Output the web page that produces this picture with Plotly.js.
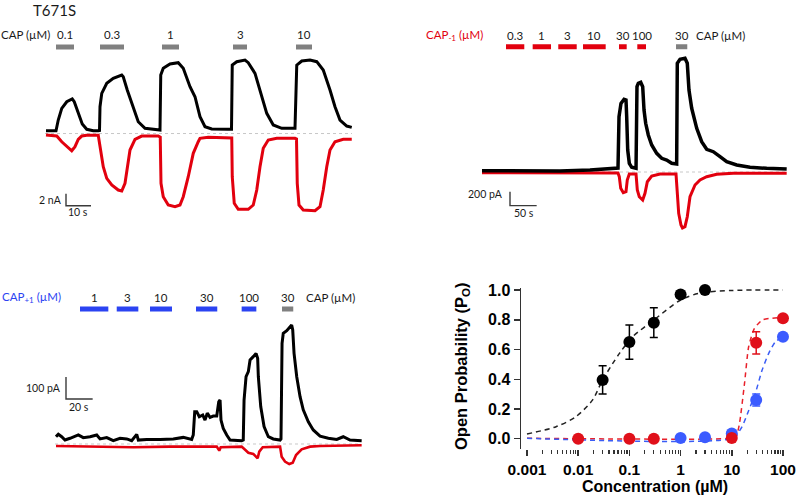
<!DOCTYPE html>
<html><head><meta charset="utf-8">
<script src="https://cdn.plot.ly/plotly-3.0.1.min.js"></script>
<style>html,body{margin:0;padding:0;background:#fff;}#chart{width:797px;height:496px;}</style>
</head><body><div id="chart"></div>
<script>
// ---------- Panel A: T671S, CAP (time s, current nA) ----------
const A_black_t = [0.4,4.4,5.3,6.7,8.7,10.9,11.7,13.3,14.9,16.7,19.3,21.3,21.8,22.0,22.7,24.7,27.3,30.7,31.3,32.9,35.3,37.3,40.0,45.3,46.0,46.3,47.3,50.0,53.3,55.3,58.0,60.0,62.0,64.0,66.7,73.3,74.6,74.9,76.7,80.0,81.3,84.0,86.7,88.7,91.3,94.7,100.0,100.7,102.7,106.0,108.7,111.3,114.0,116.0,118.0,120.7,122.7];
const A_black_I = [0.47,0.47,2.25,4.2,5.3,5.75,5.3,3.37,1.58,0.7,0.47,0.47,0.5,4.47,6.7,8.37,9.2,9.75,9.47,7.25,4.47,1.97,0.87,0.58,0.58,9.75,10.87,11.58,11.8,10.87,7.8,6.13,2.8,1.13,0.75,0.7,0.7,11.4,11.97,12.25,11.8,10.03,6.13,3.37,1.42,0.87,0.87,11.4,12.08,12.25,11.97,10.58,7.25,4.47,2.25,1.25,1.03];
const A_red_t = [0.4,4.7,6.7,8.7,10.7,12.0,13.3,14.7,16.7,21.3,22.3,23.3,24.7,26.7,29.3,30.7,32.0,32.9,34.0,36.0,38.7,45.3,46.1,46.4,47.3,49.3,52.0,54.0,55.3,57.3,59.3,61.3,62.0,65.3,74.0,74.7,74.9,75.7,77.3,81.3,83.3,84.7,86.0,87.3,89.3,92.7,100.0,100.6,100.9,101.6,103.3,108.0,110.0,111.3,112.7,114.0,116.0,119.3,122.7];
const A_red_I = [-0.25,-0.42,-1.37,-2.2,-2.87,-2.2,-0.97,-0.42,-0.3,-0.3,-2.75,-5.53,-7.47,-8.58,-9.42,-9.58,-8.3,-5.53,-2.75,-0.97,-0.42,-0.42,-0.6,-8.3,-10.53,-11.92,-12.2,-11.92,-10.53,-7.2,-3.3,-1.37,-0.8,-0.63,-0.63,-0.75,-7.2,-11.63,-12.63,-12.63,-11.92,-9.42,-5.53,-2.47,-1.08,-0.8,-0.8,-0.92,-8.3,-11.92,-12.75,-12.87,-12.2,-9.42,-5.53,-2.75,-1.37,-0.97,-0.97];
const A_bar_start = [4.4,22.0,46.8,75.2,100.4];
const A_bar_end   = [11.6,31.6,53.6,80.8,106.8];
const A_bar_labels = ['0.1','0.3','1','3','10'];

// ---------- Panel B: CAP-1 (time s, current pA) ----------
const B_black_t = [0,71,146,202.5,246.2,255,256.9,260.6,266.3,270,271.3,273.2,276.2,280.7,288.8,290.6,293.1,297.6,301.3,303.8,306.9,311.8,318.2,327.6,336.9,346.3,355.7,363.2,365,366.2,371.3,380.6,384.9,388.1,393.2,402.6,411.9,421.3,433.7,446.3,458.8,477.6,502.5,533.8,571.3];
const B_black_I = [19,21,14,29,53,57,790,981,1039,1029,790,314,124,67,53,1219,1267,1281,1219,886,696,529,386,267,196,171,124,110,114,1553,1610,1624,1553,1171,910,624,433,324,290,219,147,100,67,53,43];
const B_red_t = [0,255,257.4,260.1,264.9,270,272.4,276.2,288.8,291.2,294.9,301.3,305.6,310,318.2,333.8,363.8,366.2,368.8,373.1,375.9,380.6,384.9,390,399.4,408.8,421.3,440,471.2,571.3];
const B_red_I = [-10,-14,-67,-233,-296,-281,-114,-29,-29,-257,-353,-400,-304,-139,-57,-29,-29,-257,-590,-757,-800,-781,-639,-353,-186,-114,-67,-33,-19,-19];
const B_bar_start = [45,95,143,189.4,256.9,291.2];
const B_bar_end   = [79.3,129.4,177.6,231.9,271.3,307.5];
const B_bar_labels = ['0.3','1','3','10','30','100'];
const B_cap_start = [363.8], B_cap_end = [384.9], B_cap_labels = ['30'];

// ---------- Panel C: CAP+1 (time s, current pA) ----------
const C_black_t = [0.75,2.5,5.0,7.5,11.3,17.5,21.2,26.3,31.3,33.8,38.8,43.7,48.8,53.8,57.5,61.3,62.5,68.8,78.8,88.7,96.2,102.5,103.7,104.8,106.3,108.2,110.8,112.5,114.2,116.3,118.7,121.3,122.8,123.8,124.5,126.2,128.8,131.3,140,141.2,141.8,143.3,145,146.3,148.7,150.8,152,152.5,154.3,156.8,160,163.7,168.8,169.5,170.3,171.2,173.8,176.3,177.5,178.3,179.3,181.3,183.8,186.2,190,193.7,198.8,205,211.3,216.2,221.3,230];
const C_black_I = [33,44,33,18,26,41,29,33,41,23,29,15,26,23,15,44,18,21,21,23,30,21,41,147,147,124,132,109,140,121,127,127,192,200,109,71,41,18,15,18,200,306,329,382,397,412,390,306,170,79,33,23,18,23,458,503,515,536,541,518,412,306,215,155,101,64,36,26,21,33,18,15];
const C_red_t = [0.75,21.2,58.7,86.3,121.3,123.2,124.3,140,142.5,145,148.7,150.8,152,153.2,155.8,168.8,170,172.5,175.7,178.3,180.8,185,191.3,198.8,230];
const C_red_I = [-9,-12,-15,-12,-12,-30,-15,-12,-27,-40,-45,-58,-65,-35,-15,-12,-58,-80,-91,-85,-50,-24,-12,-9,-6];
const C_bar_start = [18.75,46.3,71.25,105.75,140];
const C_bar_end   = [40,62.5,87.75,121.7,151];
const C_bar_labels = ['1','3','10','30','100'];
const C_cap_start = [170.25], C_cap_end = [178.7], C_cap_labels = ['30'];

// ---------- Panel D: dose-response ----------
const D_black_x = [0.03,0.1,0.3,1,3];
const D_black_y = [0.395,0.65,0.78,0.97,1.0];
const D_black_err = [0.095,0.115,0.10,0.02,0];
const D_red_x = [0.01,0.1,0.3,10,30,100];
const D_red_y = [0,0,0,0.005,0.645,0.81];
const D_red_err = [0,0,0,0,0.075,0];
const D_blue_x = [1,3,10,30,100];
const D_blue_y = [0.005,0.01,0.035,0.26,0.685];
const D_blue_err = [0,0,0,0.04,0];
const fit_black_x = [0.001,0.0037,0.009,0.019,0.03,0.064,0.116,0.3,1,2.3,10,100];
const fit_black_y = [0.032,0.081,0.148,0.26,0.395,0.574,0.686,0.798,0.933,0.978,0.997,1.0];
const fit_red_x = [0.001,10.4,12.1,14.1,17.7,21.4,27.7,40.3,100];
const fit_red_y = [0.003,0.003,0.012,0.10,0.37,0.62,0.742,0.80,0.815];
const fit_blue_x = [0.001,10.4,15.8,21.4,28.8,39,52.6,71,100];
const fit_blue_y = [0.003,0.004,0.08,0.19,0.305,0.46,0.574,0.652,0.686];
const D_xticks = [0.001,0.01,0.1,1,10,100];
const D_xticklabels = ['0.001','0.01','0.1','1','10','100'];

// ---------- drawing ----------
const W = 797, H = 496;
const fx = p => p / W, fy = p => 1 - p / H;
const BLACK = '#000000', RED = '#e2000e', BLUE = '#2b43f2', GRAY = '#808080';
const LABEL_FONT = {family: 'Lato, "Open Sans", sans-serif', size: 11.5, color: '#1a1a1a'};
const SMALL_FONT = Object.assign({}, LABEL_FONT, {size: 10.5});
const BOLD = {family: '"Liberation Sans", Arial, sans-serif', size: 16, color: '#000', weight: 'bold'};
const TICKFONT = Object.assign({}, BOLD, {size: 15.5});

function barTrace(starts, ends, level, color, xa, ya) {
  const x = [], y = [];
  starts.forEach((s, i) => { x.push(s, ends[i], null); y.push(level, level, null); });
  return {x, y, xaxis: xa, yaxis: ya, mode: 'lines', line: {color, width: 5}, hoverinfo: 'skip'};
}
function line(x, y, color, width, xa, ya, dash) {
  return {x, y, xaxis: xa, yaxis: ya, mode: 'lines', line: {color, width, dash: dash || 'solid'}, hoverinfo: 'skip'};
}
function scaleBar(sb, xa, ya) {
  return line([sb.t0, sb.t0, sb.t0 + sb.dt], [sb.I0 + sb.dI, sb.I0, sb.I0], '#3a3a3a', 1.4, xa, ya);
}
const mid = (s, e) => s.map((v, i) => (v + e[i]) / 2);

const SB_A = {t0: 8.4, I0: -12.03, dt: 10, dI: 2};
const SB_B = {t0: 52.5, I0: -481, dt: 50, dI: 200};
const SB_C = {t0: 8.25, I0: 204.5, dt: 20, dI: 100};

const traces = [
  // Panel A
  line([0, 122.8], [0, 0], '#c8c8c8', 1, 'x', 'y', 'dot'),
  line(A_black_t, A_black_I, BLACK, 3, 'x', 'y'),
  line(A_red_t, A_red_I, RED, 3, 'x', 'y'),
  barTrace(A_bar_start, A_bar_end, 14.42, GRAY, 'x', 'y'),
  scaleBar(SB_A, 'x', 'y'),
  // Panel B
  line([0, 573.75], [0, 0], '#c8c8c8', 1, 'x2', 'y2', 'dot'),
  line(B_red_t, B_red_I, RED, 3, 'x2', 'y2'),
  line(B_black_t, B_black_I, BLACK, 3.5, 'x2', 'y2'),
  barTrace(B_bar_start, B_bar_end, 1790, RED, 'x2', 'y2'),
  barTrace(B_cap_start, B_cap_end, 1790, GRAY, 'x2', 'y2'),
  scaleBar(SB_B, 'x2', 'y2'),
  // Panel C
  line([0, 229.5], [0, 0], '#c8c8c8', 1, 'x3', 'y3', 'dot'),
  line(C_red_t, C_red_I, RED, 2.6, 'x3', 'y3'),
  line(C_black_t, C_black_I, BLACK, 3, 'x3', 'y3'),
  barTrace(C_bar_start, C_bar_end, 613.6, BLUE, 'x3', 'y3'),
  barTrace(C_cap_start, C_cap_end, 613.6, GRAY, 'x3', 'y3'),
  scaleBar(SB_C, 'x3', 'y3'),
  // Panel D fits
  {x: fit_red_x, y: fit_red_y, xaxis: 'x4', yaxis: 'y4', mode: 'lines', line: {color: '#e8202a', width: 1.5, dash: '5px,4px', shape: 'spline', smoothing: 0.6}, hoverinfo: 'skip'},
  {x: fit_blue_x, y: fit_blue_y, xaxis: 'x4', yaxis: 'y4', mode: 'lines', line: {color: '#3a5cf5', width: 1.5, dash: '5px,4px', shape: 'spline', smoothing: 0.6}, hoverinfo: 'skip'},
  {x: fit_black_x, y: fit_black_y, xaxis: 'x4', yaxis: 'y4', mode: 'lines', line: {color: '#222', width: 1.5, dash: '5px,4px', shape: 'spline', smoothing: 0.8}, hoverinfo: 'skip'},
  // Panel D points
  {x: D_blue_x, y: D_blue_y, xaxis: 'x4', yaxis: 'y4', mode: 'markers', cliponaxis: false,
   marker: {color: '#3b5bff', size: 12}, error_y: {type: 'data', array: D_blue_err, color: '#3b5bff', thickness: 1.5, width: 4}},
  {x: D_red_x, y: D_red_y, xaxis: 'x4', yaxis: 'y4', mode: 'markers', cliponaxis: false,
   marker: {color: '#e0101a', size: 12}, error_y: {type: 'data', array: D_red_err, color: '#e0101a', thickness: 1.5, width: 4}},
  {x: D_black_x, y: D_black_y, xaxis: 'x4', yaxis: 'y4', mode: 'markers', cliponaxis: false,
   marker: {color: '#000', size: 12}, error_y: {type: 'data', array: D_black_err, color: '#000', thickness: 1.5, width: 4}}
];

const hidden = (dom, range, anchor) => ({domain: dom, range, visible: false, fixedrange: true, anchor});
const minorVals = [];
[0.001, 0.01, 0.1, 1, 10].forEach(d => { for (let k = 2; k <= 9; k++) minorVals.push(d * k); });

const ann = [];
function txt(text, px, py, xanchor, font, extra) {
  ann.push(Object.assign({text, x: fx(px), y: fy(py), xref: 'paper', yref: 'paper', showarrow: false,
    xanchor: xanchor || 'center', yanchor: 'middle', font: font || LABEL_FONT, borderpad: 0}, extra || {}));
}
function barLabels(starts, ends, labels, xref, py, color) {
  mid(starts, ends).forEach((m, i) => ann.push({text: labels[i], x: m, xref, y: fy(py), yref: 'paper',
    showarrow: false, xanchor: 'center', yanchor: 'middle', borderpad: 0,
    font: Object.assign({}, LABEL_FONT, {color: color || LABEL_FONT.color})}));
}
// Panel A text
txt('T671S', 54.5, 9.5, 'center', Object.assign({}, LABEL_FONT, {size: 15}));
txt('CAP (µM)', 0, 34.3, 'left');
barLabels(A_bar_start, A_bar_end, A_bar_labels, 'x', 34.3);
txt('2 nA', 63, 199.5, 'right', SMALL_FONT);
txt('10 s', 77.5, 212, 'center', SMALL_FONT);
// Panel B text
txt('CAP<sub>-1</sub> (µM)', 454, 35, 'center', Object.assign({}, LABEL_FONT, {color: RED}));
barLabels(B_bar_start, B_bar_end, B_bar_labels, 'x2', 35);
barLabels(B_cap_start, B_cap_end, B_cap_labels, 'x2', 35);
txt('CAP (µM)', 695, 35, 'left');
txt('200 pA', 504, 194.3, 'right', SMALL_FONT);
txt('50 s', 523.5, 213.3, 'center', SMALL_FONT);
// Panel C text
txt('CAP<sub>+1</sub> (µM)', 0.5, 297.7, 'left', Object.assign({}, LABEL_FONT, {color: BLUE}));
barLabels(C_bar_start, C_bar_end, C_bar_labels, 'x3', 297.7);
barLabels(C_cap_start, C_cap_end, C_cap_labels, 'x3', 297.7);
txt('CAP (µM)', 305, 297.7, 'left');
txt('100 pA', 62, 388.3, 'right', SMALL_FONT);
txt('20 s', 78.7, 407, 'center', SMALL_FONT);
// Panel D titles
txt('Concentration (µM)', 655, 486.5, 'center', Object.assign({}, BOLD, {size: 16}));
txt('Open Probability (P<sub>O</sub>)', 462, 366, 'center', Object.assign({}, BOLD, {size: 16.5}), {textangle: -90});

const layout = {
  width: W, height: H, margin: {l: 0, r: 0, t: 0, b: 0}, paper_bgcolor: '#fff', plot_bgcolor: 'rgba(0,0,0,0)',
  showlegend: false, hovermode: false,
  xaxis:  hidden([fx(45), fx(355)], [0, 124], 'y'),
  yaxis:  hidden([fy(224), fy(44)], [-15.08, 14.92], 'x'),
  xaxis2: hidden([fx(482), fx(791.33)], [0, 580], 'y2'),
  yaxis2: hidden([fy(242), fy(39)], [-1000, 1900], 'x2'),
  xaxis3: hidden([fx(55), fx(364.33)], [0, 232], 'y3'),
  yaxis3: hidden([fy(479.2), fy(298.8)], [-160, 660], 'x3'),
  xaxis4: {domain: [fx(521), fx(788.1)], type: 'log', range: [-3.117, 2.1], anchor: 'y4',
    tickmode: 'array', tickvals: D_xticks, ticktext: D_xticklabels, ticks: 'outside', ticklen: 6, tickwidth: 1.5,
    tickcolor: '#333', showline: false, showgrid: false, zeroline: false, tickfont: TICKFONT, ticklabelstandoff: 0,
    minor: {tickmode: 'array', tickvals: minorVals, ticks: 'outside', ticklen: 4, tickwidth: 1.2, tickcolor: '#333', showgrid: false},
    fixedrange: true},
  yaxis4: {domain: [fy(449), fy(288)], range: [-0.069, 1.0135], anchor: 'x4', tickmode: 'linear', tick0: 0, dtick: 0.2,
    tickformat: '.1f', ticks: 'outside', ticklen: 6, tickwidth: 1.5, tickcolor: '#333', showline: true, linecolor: '#333',
    linewidth: 1.5, showgrid: false, zeroline: false, tickfont: BOLD, fixedrange: true},
  annotations: ann
};
Plotly.newPlot('chart', traces, layout, {staticPlot: true, displayModeBar: false});
</script>
</body></html>
